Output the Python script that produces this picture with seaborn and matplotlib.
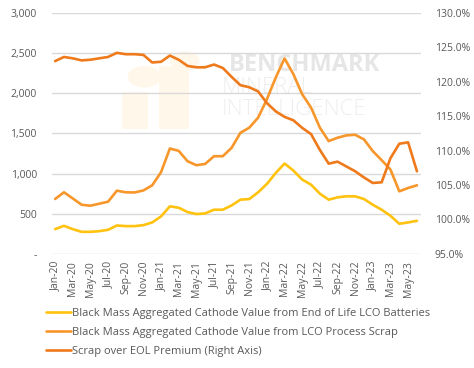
import pandas as pd
import numpy as np
import matplotlib
matplotlib.use("Agg")
import matplotlib.pyplot as plt
import seaborn as sns
from matplotlib.ticker import FuncFormatter
from matplotlib.patches import Rectangle, Circle

# monthly, Jan-20 .. Jun-23
months = pd.date_range("2020-01-01", "2023-06-01", freq="MS").strftime("%b-%y").tolist()

eol_value = [308, 350, 308, 275, 275, 283, 300, 354, 346, 346,
             358, 392, 467, 592, 575, 521, 496, 504, 550, 550,
             604, 675, 683, 767, 871, 1008, 1125, 1037, 925, 862,
             750, 675, 704, 717, 717, 683, 612, 550, 475, 375,
             392, 412]

scrap_value = [684, 767, 690, 612, 600, 625, 650, 787, 767, 765,
               790, 854, 1017, 1312, 1283, 1154, 1104, 1120, 1216, 1216,
               1321, 1508, 1571, 1696, 1925, 2196, 2433, 2237, 1987, 1821,
               1571, 1404, 1446, 1475, 1483, 1425, 1279, 1167, 1050, 779,
               821, 854]

premium_pct = [123.0, 123.6, 123.4, 123.1, 123.2, 123.4, 123.6, 124.2, 124.0, 124.0,
               123.9, 122.8, 122.9, 123.8, 123.2, 122.3, 122.1, 122.1, 122.5, 122.0,
               120.7, 119.5, 119.2, 118.6, 116.9, 115.7, 114.9, 114.4, 113.3, 112.4,
               110.1, 108.1, 108.4, 107.7, 107.0, 106.1, 105.3, 105.4, 108.9, 111.0,
               111.2, 107.0]

lbl_eol = "Black Mass Aggregated Cathode Value from End of Life LCO Batteries"
lbl_scrap = "Black Mass Aggregated Cathode Value from LCO Process Scrap"
lbl_prem = "Scrap over EOL Premium (Right Axis)"

c_eol = "#FFC20E"
c_scrap = "#F7962B"
c_prem = "#EE7A1C"
txt_col = "#595959"

df = pd.DataFrame({"idx": np.arange(len(months)), "month": months,
                   "eol": eol_value, "scrap": scrap_value, "prem": premium_pct})

sns.set_style("white")
plt.rcParams['font.family'] = ['Open Sans', 'DejaVu Sans']

fig = plt.figure(figsize=(4.74, 3.68), dpi=100)
ax = fig.add_axes([0.110, 0.310, 0.778, 0.655])
ax2 = ax.twinx()

# watermark (faint logo + text)
logo = "#FFF8EA"
ax.add_patch(Rectangle((0.19, 0.52), 0.07, 0.15, transform=ax.transAxes, color=logo, zorder=0, lw=0))
ax.add_patch(Circle((0.25, 0.735), 0.045, transform=ax.transAxes, color=logo, zorder=0, lw=0))
ax.add_patch(Rectangle((0.29, 0.52), 0.08, 0.26, transform=ax.transAxes, color=logo, zorder=0, lw=0))
ax.add_patch(Circle((0.36, 0.80), 0.04, transform=ax.transAxes, color=logo, zorder=0, lw=0))
ax.text(0.48, 0.785, "BENCHMARK", transform=ax.transAxes, fontsize=17, fontweight="bold",
        color="#E6E6E6", ha="left", va="center", zorder=0)
ax.text(0.46, 0.69, "MINERAL", transform=ax.transAxes, fontsize=16, fontweight="light",
        color="#EEEEEE", ha="left", va="center", zorder=0)
ax.text(0.46, 0.60, "INTELLIGENCE", transform=ax.transAxes, fontsize=16, fontweight="light",
        color="#EEEEEE", ha="left", va="center", zorder=0)

sns.lineplot(data=df, x="idx", y="eol", ax=ax, color=c_eol, linewidth=1.9, label=lbl_eol, legend=False)
sns.lineplot(data=df, x="idx", y="scrap", ax=ax, color=c_scrap, linewidth=1.9, label=lbl_scrap, legend=False)
sns.lineplot(data=df, x="idx", y="prem", ax=ax2, color=c_prem, linewidth=1.9, label=lbl_prem, legend=False)

ax.set_ylim(0, 3000)
ax.set_yticks(np.arange(0, 3001, 500))
ax.yaxis.set_major_formatter(FuncFormatter(lambda v, p: "-" if v == 0 else f"{v:,.0f}"))
ax2.set_ylim(95, 130)
ax2.set_yticks(np.arange(95, 130.1, 5))
ax2.yaxis.set_major_formatter(FuncFormatter(lambda v, p: f"{v:.1f}%"))

ax.set_xlim(-0.34, 41.45)
ax.set_xticks(df["idx"][::2])
ax.set_xticklabels(df["month"][::2], rotation=90)

ax.grid(axis="y", color="#D9D9D9", linewidth=1)
ax.set_axisbelow(True)
for a in (ax, ax2):
    for s in a.spines.values():
        s.set_visible(False)
    a.tick_params(length=0, labelsize=7.5, colors=txt_col)
    a.set_xlabel("")
    a.set_ylabel("")
ax.tick_params(axis="y", pad=11)
ax2.tick_params(axis="y", pad=10)
ax.tick_params(axis="x", pad=5)

handles = ax.get_lines()[:2] + ax2.get_lines()[:1]
fig.legend(handles, [lbl_eol, lbl_scrap, lbl_prem], loc="upper left",
           bbox_to_anchor=(0.098, 0.162), frameon=False, fontsize=8.0,
           handlelength=2.2, handletextpad=0.1, labelspacing=0.72,
           labelcolor=txt_col, borderaxespad=0, borderpad=0)

fig.savefig("out.png", dpi=100, facecolor="white")
